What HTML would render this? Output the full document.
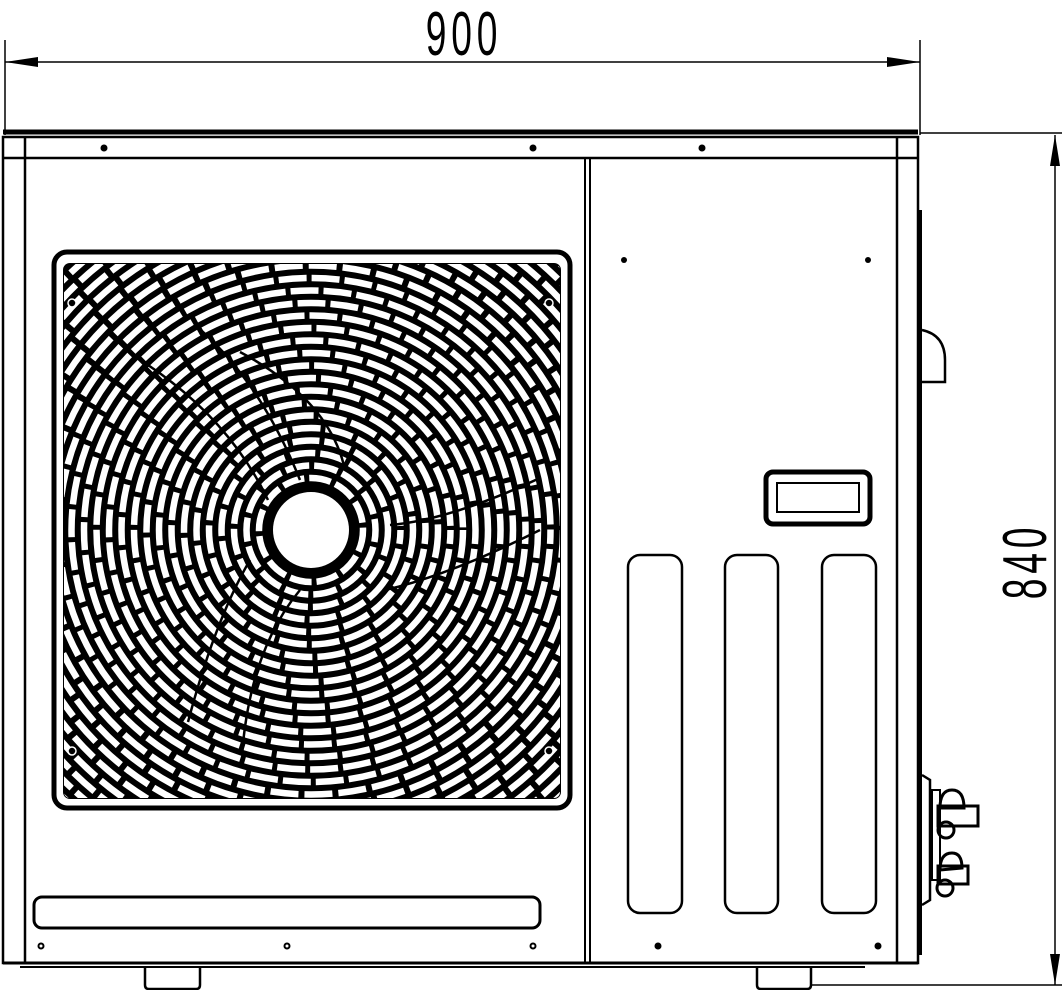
<!DOCTYPE html>
<html><head><meta charset="utf-8"><style>
html,body{margin:0;padding:0;background:#fff;}
svg{display:block;}
text{font-family:"Liberation Sans",sans-serif;}
</style></head><body>
<svg width="1064" height="990" viewBox="0 0 1064 990" xmlns="http://www.w3.org/2000/svg">
<defs>
<clipPath id="gc"><rect x="64" y="264" width="496" height="534" rx="6"/></clipPath>
</defs>
<g stroke="#000" stroke-width="1.5" fill="none">
<line x1="5" y1="40" x2="5" y2="135"/>
<line x1="920" y1="40" x2="920" y2="135"/>
<line x1="5" y1="62" x2="920" y2="62"/>
<line x1="920" y1="133" x2="1062" y2="133"/>
<line x1="810" y1="985" x2="1062" y2="985"/>
<line x1="1055" y1="135" x2="1055" y2="985"/>
</g>
<polygon points="5,62 38,57 38,67" fill="#000"/>
<polygon points="920,62 887,57 887,67" fill="#000"/>
<polygon points="1055,135 1050,166 1060,166" fill="#000"/>
<polygon points="1055,985 1050,954 1060,954" fill="#000"/>
<text x="0" y="0" font-size="62" letter-spacing="8" transform="translate(464,55) scale(0.6,1)" text-anchor="middle">900</text>
<text x="0" y="0" font-size="62" letter-spacing="8" transform="translate(1046,561) rotate(-90) scale(0.6,1)" text-anchor="middle">840</text>

<g stroke="#000" fill="none">
<line x1="3" y1="132" x2="918" y2="132" stroke-width="5"/>
<rect x="3" y="137" width="915" height="826" stroke-width="2.5"/>
<line x1="25" y1="137" x2="25" y2="963" stroke-width="2.5"/>
<line x1="897" y1="137" x2="897" y2="963" stroke-width="2.5"/>
<line x1="3" y1="158" x2="918" y2="158" stroke-width="2.5"/>
<line x1="585" y1="158" x2="585" y2="962" stroke-width="2"/>
<line x1="590" y1="158" x2="590" y2="962" stroke-width="2"/>
<line x1="3" y1="963" x2="918" y2="963" stroke-width="3"/>
<line x1="20" y1="967" x2="865" y2="967" stroke-width="2"/>
<line x1="920" y1="210" x2="920" y2="955" stroke-width="4"/>
<path d="M922,330 Q945,335 945,360 L945,382 L922,382" stroke-width="2.5"/>
<path d="M145,968 V985 Q145,989 149,989 H196 Q200,989 200,985 V968" stroke-width="2.5"/>
<path d="M757,968 V985 Q757,989 761,989 H807 Q811,989 811,985 V968" stroke-width="2.5"/>
<rect x="34" y="897" width="506" height="31" rx="8" stroke-width="3"/>
<rect x="766" y="472" width="104" height="52" rx="7" stroke-width="5"/>
<rect x="777" y="483" width="82" height="29" stroke-width="2"/>
<rect x="628" y="555" width="54" height="358" rx="12" stroke-width="2.5"/>
<rect x="725" y="555" width="53" height="358" rx="12" stroke-width="2.5"/>
<rect x="822" y="555" width="54" height="358" rx="12" stroke-width="2.5"/>
<path d="M922,775 L930,780 L930,900 L922,905" stroke-width="2.5"/>
<rect x="932" y="790" width="8" height="90" stroke-width="2"/>
<path d="M940,808 Q940,790 952,790 Q964,790 964,808 Z" stroke-width="3"/>
<rect x="938" y="806" width="40" height="20" stroke-width="3"/>
<circle cx="946" cy="830" r="8" stroke-width="3"/>
<path d="M940,870 Q940,853 952,853 Q962,853 962,868 Z" stroke-width="3"/>
<rect x="938" y="866" width="30" height="18" stroke-width="3"/>
<circle cx="945" cy="888" r="8" stroke-width="3"/>
</g>
<g fill="#000">
<circle cx="104" cy="148" r="3.5"/><circle cx="533" cy="148" r="3.5"/><circle cx="702" cy="148" r="3.5"/>
<circle cx="624" cy="260" r="3"/><circle cx="868" cy="260" r="3"/>
<circle cx="658" cy="946" r="3.5"/><circle cx="878" cy="946" r="3.5"/>
</g>
<g fill="none" stroke="#000" stroke-width="2">
<circle cx="41" cy="946" r="2.5"/><circle cx="287" cy="946" r="2.5"/><circle cx="533" cy="946" r="2.5"/>
</g>

<rect x="54" y="252" width="516" height="556" rx="13" fill="none" stroke="#000" stroke-width="5"/>
<rect x="63" y="263" width="498" height="536" rx="7" fill="#000"/>
<g clip-path="url(#gc)" fill="none" stroke="#fff" stroke-width="6.5">
<circle cx="311" cy="530" r="52" stroke-dasharray="22 5"/>
<circle cx="311" cy="530" r="64.5" stroke-dasharray="24 5" stroke-dashoffset="12"/>
<circle cx="311" cy="530" r="77" stroke-dasharray="26 5"/>
<circle cx="311" cy="530" r="89.5" stroke-dasharray="27 5" stroke-dashoffset="13"/>
<circle cx="311" cy="530" r="102" stroke-dasharray="28 5"/>
<circle cx="311" cy="530" r="114.5" stroke-dasharray="28 5" stroke-dashoffset="14"/>
<circle cx="311" cy="530" r="127" stroke-dasharray="28 5"/>
<circle cx="311" cy="530" r="139.5" stroke-dasharray="28 5" stroke-dashoffset="14"/>
<circle cx="311" cy="530" r="152" stroke-dasharray="28 5"/>
<circle cx="311" cy="530" r="164.5" stroke-dasharray="28 5" stroke-dashoffset="14"/>
<circle cx="311" cy="530" r="177" stroke-dasharray="28 5"/>
<circle cx="311" cy="530" r="189.5" stroke-dasharray="28 5" stroke-dashoffset="14"/>
<circle cx="311" cy="530" r="202" stroke-dasharray="28 5"/>
<circle cx="311" cy="530" r="214.5" stroke-dasharray="28 5" stroke-dashoffset="14"/>
<circle cx="311" cy="530" r="227" stroke-dasharray="28 5"/>
<circle cx="311" cy="530" r="239.5" stroke-dasharray="28 5" stroke-dashoffset="14"/>
<circle cx="311" cy="530" r="252" stroke-dasharray="28 5"/>
<circle cx="311" cy="530" r="264.5" stroke-dasharray="28 6" stroke-dashoffset="14"/>
<circle cx="311" cy="530" r="277" stroke-dasharray="28 6"/>
<circle cx="311" cy="530" r="289.5" stroke-dasharray="28 6" stroke-dashoffset="14"/>
<circle cx="311" cy="530" r="302" stroke-dasharray="28 6"/>
<circle cx="311" cy="530" r="314.5" stroke-dasharray="28 6" stroke-dashoffset="14"/>
<circle cx="311" cy="530" r="327" stroke-dasharray="28 6"/>
<circle cx="311" cy="530" r="339.5" stroke-dasharray="28 6" stroke-dashoffset="14"/>
<circle cx="311" cy="530" r="352" stroke-dasharray="28 6"/>
<circle cx="311" cy="530" r="364.5" stroke-dasharray="28 6" stroke-dashoffset="14"/>
</g>
<g fill="none" stroke="#000" stroke-width="2.5" clip-path="url(#gc)">
<path d="M195,325 Q260,380 300,480"/>
<path d="M148,365 Q230,420 268,500"/>
<path d="M540,478 Q450,520 390,525"/>
<path d="M540,530 Q450,575 385,590"/>
<path d="M188,722 Q215,620 250,560"/>
<path d="M242,755 Q250,650 300,590"/>
<path d="M240,352 Q330,400 345,470"/>
</g>
<circle cx="311" cy="530" r="42" fill="#000"/>
<circle cx="311" cy="530" r="38" fill="#fff"/>
<g fill="#000" stroke="#fff" stroke-width="1.5">
<circle cx="72" cy="303" r="4"/><circle cx="549" cy="303" r="4"/>
<circle cx="72" cy="751" r="4"/><circle cx="549" cy="751" r="4"/>
</g>
</svg>
</body></html>
